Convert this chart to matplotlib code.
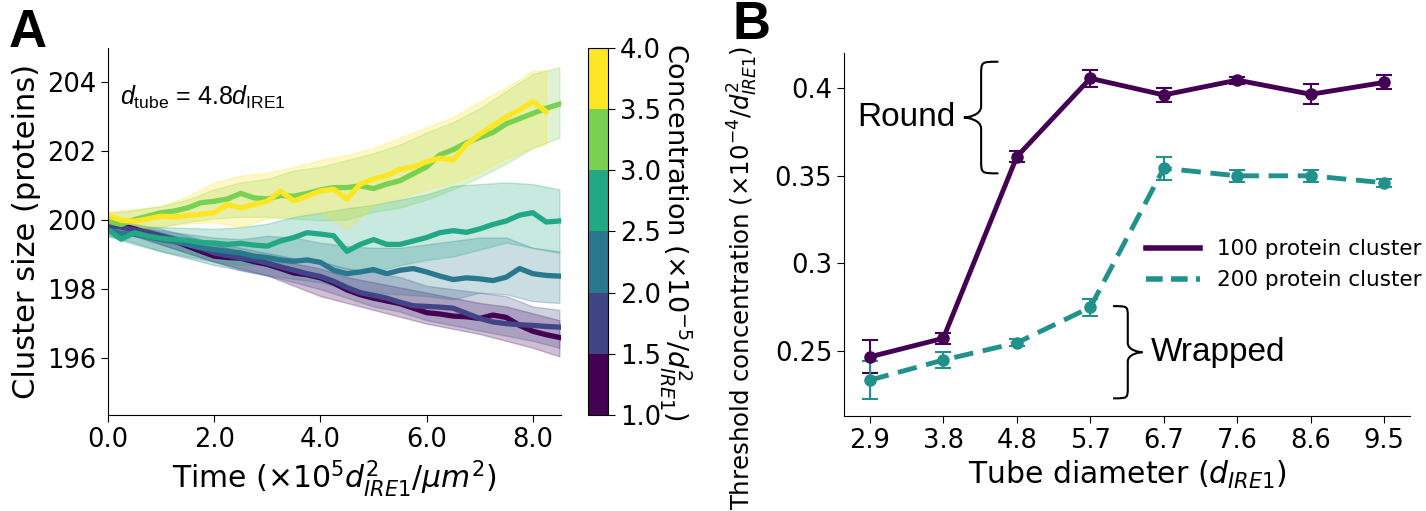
import numpy as np
import matplotlib
matplotlib.use('Agg')
import matplotlib.pyplot as plt
from matplotlib.colors import ListedColormap, BoundaryNorm
from matplotlib.path import Path
import matplotlib.patches as mpatches
from matplotlib.ticker import FuncFormatter

plt.rcParams['mathtext.fontset'] = 'dejavusans'
plt.rcParams['mathtext.rm'] = 'Liberation Sans'
plt.rcParams['mathtext.it'] = 'Liberation Sans:italic'

# ---------------- Panel A data ----------------
conc_levels = [1.5, 2.0, 2.5, 3.0, 3.5, 4.0]
conc_bounds = [1.0, 1.5, 2.0, 2.5, 3.0, 3.5, 4.0]
conc_colors = ['#440154', '#414487', '#2a788e', '#22a884', '#7ad151', '#fde725']

t_line = np.arange(0, 8.51, 0.25)
t_band = np.arange(0, 8.51, 0.5)
t_line_40 = t_line[:34]
t_band_40 = np.append(t_band[:17], 8.25)

size_15 = [199.83, 199.85, 199.75, 199.62, 199.50, 199.40, 199.25, 199.10, 198.96, 198.92,
           198.90, 198.80, 198.72, 198.60, 198.47, 198.42, 198.33, 198.18, 197.98, 197.84,
           197.74, 197.66, 197.58, 197.45, 197.32, 197.28, 197.22, 197.20, 197.15, 197.25,
           197.18, 196.95, 196.78, 196.68, 196.60]
size_20 = [199.88, 199.80, 199.72, 199.65, 199.55, 199.45, 199.30, 199.20, 199.05, 198.98,
           198.91, 198.85, 198.76, 198.65, 198.55, 198.45, 198.37, 198.23, 198.05, 197.90,
           197.82, 197.74, 197.62, 197.52, 197.50, 197.48, 197.45, 197.30, 197.15, 197.05,
           197.00, 196.97, 196.95, 196.92, 196.90]
size_25 = [199.73, 199.62, 199.59, 199.52, 199.44, 199.38, 199.30, 199.20, 199.15, 199.10,
           199.05, 198.96, 198.92, 198.85, 198.81, 198.85, 198.78, 198.55, 198.45, 198.50,
           198.57, 198.45, 198.55, 198.60, 198.50, 198.38, 198.28, 198.33, 198.30, 198.25,
           198.35, 198.60, 198.45, 198.40, 198.38]
size_30 = [199.73, 199.45, 199.64, 199.54, 199.48, 199.44, 199.42, 199.35, 199.34, 199.30,
           199.33, 199.28, 199.25, 199.40, 199.50, 199.64, 199.60, 199.55, 199.10, 199.30,
           199.44, 199.30, 199.30, 199.40, 199.50, 199.64, 199.70, 199.65, 199.75, 199.88,
           199.98, 200.15, 200.22, 199.95, 199.98]
size_35 = [199.97, 199.88, 200.02, 200.12, 200.22, 200.27, 200.36, 200.51, 200.55, 200.62,
           200.78, 200.65, 200.62, 200.72, 200.70, 200.78, 200.88, 200.95, 200.95, 201.00,
           200.92, 201.05, 201.15, 201.35, 201.55, 201.90, 202.05, 202.25, 202.40, 202.55,
           202.80, 202.95, 203.10, 203.25, 203.37]
size_40 = [200.14, 200.00, 199.97, 200.04, 200.12, 200.09, 200.14, 200.17, 200.22, 200.46,
           200.36, 200.46, 200.55, 200.85, 200.56, 200.70, 200.85, 200.90, 200.62, 201.05,
           201.20, 201.30, 201.48, 201.55, 201.70, 201.80, 201.75, 202.20, 202.50, 202.75,
           203.00, 203.20, 203.45, 203.15]

lo_15 = [199.70, 199.55, 199.30, 199.05, 198.80, 198.60, 198.40, 198.10, 197.80, 197.60,
         197.40, 197.20, 197.00, 196.85, 196.70, 196.50, 196.30, 196.05]
hi_15 = [199.90, 199.85, 199.65, 199.45, 199.30, 199.10, 198.90, 198.75, 198.60, 198.35,
         198.20, 198.05, 197.90, 197.75, 197.60, 197.50, 197.30, 197.10]
lo_20 = [199.75, 199.55, 199.30, 199.05, 198.80, 198.55, 198.40, 198.20, 198.00, 197.75,
         197.50, 197.35, 197.10, 196.95, 196.80, 196.65, 196.50, 196.30]
hi_20 = [199.95, 199.90, 199.75, 199.55, 199.35, 199.20, 199.05, 198.90, 198.80, 198.60,
         198.50, 198.35, 198.10, 198.00, 197.90, 197.80, 197.50, 197.40]
lo_25 = [199.55, 199.35, 199.10, 198.90, 198.70, 198.55, 198.40, 198.30, 198.20, 198.00,
         197.90, 197.85, 197.80, 197.70, 197.90, 197.85, 197.65, 197.60]
hi_25 = [199.90, 199.80, 199.70, 199.60, 199.50, 199.45, 199.55, 199.50, 199.35, 199.25,
         199.20, 199.20, 199.30, 199.40, 199.50, 199.50, 199.20, 199.10]
lo_30 = [199.54, 199.30, 199.10, 198.95, 198.80, 198.70, 198.72, 198.80, 198.78, 198.60,
         198.50, 198.70, 198.85, 198.95, 199.15, 199.35, 199.20, 199.05]
hi_30 = [199.93, 199.85, 199.80, 199.78, 199.75, 199.80, 199.90, 200.10, 200.22, 200.35,
         200.45, 200.60, 200.75, 201.00, 201.05, 201.10, 201.05, 200.90]
lo_35 = [199.73, 199.75, 199.80, 199.95, 200.05, 200.10, 200.10, 200.05, 200.00, 200.02,
         200.25, 200.37, 200.60, 200.90, 201.25, 201.65, 202.10, 202.40]
hi_35 = [200.22, 200.30, 200.41, 200.60, 200.90, 201.10, 201.20, 201.45, 201.55, 201.75,
         201.95, 202.20, 202.55, 202.85, 203.25, 203.75, 204.25, 204.44]
lo_40 = [199.88, 199.80, 199.85, 199.90, 199.95, 199.80, 200.05, 200.15, 200.25, 199.75,
         200.45, 200.66, 200.90, 201.10, 201.40, 201.80, 202.10, 202.20]
hi_40 = [200.25, 200.32, 200.41, 200.70, 201.10, 201.30, 201.38, 201.55, 201.75, 201.90,
         202.10, 202.40, 202.70, 203.00, 203.45, 203.85, 204.35, 204.35]

lines_A = [size_15, size_20, size_25, size_30, size_35, size_40]
lows_A = [lo_15, lo_20, lo_25, lo_30, lo_35, lo_40]
highs_A = [hi_15, hi_20, hi_25, hi_30, hi_35, hi_40]

# ---------------- Panel B data ----------------
diam_labels = ['2.9', '3.8', '4.8', '5.7', '6.7', '7.6', '8.6', '9.5']
thr_100 = [0.2465, 0.2571, 0.3609, 0.4057, 0.3962, 0.4047, 0.3966, 0.4034]
err_100 = [0.0095, 0.0030, 0.0030, 0.0050, 0.0042, 0.0020, 0.0057, 0.0040]
thr_200 = [0.2332, 0.2447, 0.2545, 0.2748, 0.3543, 0.3500, 0.3500, 0.3460]
err_200 = [0.0107, 0.0043, 0.0020, 0.0050, 0.0065, 0.0033, 0.0033, 0.0024]


def brace(ax, x_tip, x_end, y0, y1, **kw):
    # curly brace with its point at x_tip, arms ending at x_end
    ym = (y0 + y1) / 2
    h = y1 - y0
    xm = (x_tip + x_end) / 2
    w = x_end - x_tip
    verts = [(x_end, y1), (xm, y1), (xm, y1), (xm, y1 - 0.12 * h),
             (xm, ym + 0.1 * h),
             (xm, ym + 0.02 * h), (x_tip + 0.1 * w, ym), (x_tip, ym),
             (x_tip + 0.1 * w, ym), (xm, ym - 0.02 * h), (xm, ym - 0.1 * h),
             (xm, y0 + 0.12 * h),
             (xm, y0), (xm, y0), (x_end, y0)]
    codes = [Path.MOVETO, Path.CURVE4, Path.CURVE4, Path.CURVE4,
             Path.LINETO,
             Path.CURVE4, Path.CURVE4, Path.CURVE4,
             Path.CURVE4, Path.CURVE4, Path.CURVE4,
             Path.LINETO,
             Path.CURVE4, Path.CURVE4, Path.CURVE4]
    ax.add_patch(mpatches.PathPatch(Path(verts, codes), fill=False, **kw))


fig = plt.figure(figsize=(14.26, 5.11), dpi=100)
axA = fig.add_axes([0.0757, 0.1879, 0.3177, 0.7182])
cax = fig.add_axes([0.4123, 0.1879, 0.0141, 0.7182])
axB = fig.add_axes([0.5919, 0.1859, 0.3969, 0.7104])

# ---- Panel A ----
for i in range(6):
    tb = t_band_40 if i == 5 else t_band
    axA.fill_between(tb, lows_A[i], highs_A[i], color=conc_colors[i], alpha=0.25, linewidth=1)
for i in range(6):
    tl = t_line_40 if i == 5 else t_line
    axA.plot(tl, lines_A[i], color=conc_colors[i], linewidth=3.8)

axA.set_xlim(0, 8.53)
axA.set_ylim(194.35, 205.0)
axA.set_xticks([0, 2, 4, 6, 8])
axA.xaxis.set_major_formatter(FuncFormatter(lambda v, p: '%.1f' % v))
axA.set_yticks([196, 198, 200, 202, 204])
axA.tick_params(axis='both', labelsize=18.5, length=5)
axA.spines['top'].set_visible(False)
axA.spines['right'].set_visible(False)
axA.set_ylabel('Cluster size (proteins)', fontsize=22)
axA.set_xlabel(r'Time ($\times10^5 d_{IRE1}^2/\mu m^2$)', fontsize=21.5)
axA.text(0.027, 0.865, r'$d_\mathrm{tube}$ = 4.8$d_\mathrm{IRE1}$', transform=axA.transAxes,
         fontsize=18, family='Liberation Sans', math_fontfamily='custom', va='center')

cmap = ListedColormap(conc_colors)
norm = BoundaryNorm(conc_bounds, cmap.N)
sm = matplotlib.cm.ScalarMappable(norm=norm, cmap=cmap)
cb = fig.colorbar(sm, cax=cax, ticks=conc_bounds)
cb.ax.set_yticklabels(['%.1f' % b for b in conc_bounds])
cb.ax.tick_params(labelsize=18.5, length=5)
cb.set_label(r'Concentration ($\times10^{-5}/d_{IRE1}^2$)', fontsize=19.5, rotation=270, labelpad=24)

# ---- Panel B ----
xb = np.arange(len(diam_labels))
c100 = '#440154'
c200 = '#21918c'
axB.errorbar(xb, thr_100, yerr=err_100, color=c100, linewidth=3.5, marker='o', markersize=8,
             capsize=6, elinewidth=1.5, capthick=1.5, label='100 protein cluster')
axB.errorbar(xb, thr_200, yerr=err_200, color=c200, linewidth=3.5, marker='o', markersize=8,
             capsize=6, elinewidth=1.5, capthick=1.5, dashes=(4, 2), label='200 protein cluster')
axB.set_xlim(-0.35, 7.35)
axB.set_ylim(0.2127, 0.4202)
axB.set_xticks(xb)
axB.set_xticklabels(diam_labels)
axB.set_yticks([0.25, 0.3, 0.35, 0.4])
axB.yaxis.set_major_formatter(FuncFormatter(lambda v, p: '%g' % round(v, 3)))
axB.tick_params(axis='both', labelsize=18.5, length=5)
axB.spines['top'].set_visible(False)
axB.spines['right'].set_visible(False)
axB.set_xlabel(r'Tube diameter ($d_{IRE1}$)', fontsize=21.5)
axB.set_ylabel(r'Threshold concentration ($\times10^{-4}/d_{IRE1}^2$)', fontsize=17.6)
axB.yaxis.set_label_coords(-0.148, 0.3815)

h_leg = [matplotlib.lines.Line2D([], [], color=c100, linewidth=4),
         matplotlib.lines.Line2D([], [], color=c200, linewidth=4, dashes=(3, 1.5))]
axB.legend(h_leg, ['100 protein cluster', '200 protein cluster'], loc='upper left',
           bbox_to_anchor=(0.5, 0.54), frameon=False, fontsize=15.5, handlelength=2.5)

brace(axB, 1.28, 1.75, 0.3514, 0.4152, color='black', linewidth=1.5)
brace(axB, 3.71, 3.31, 0.2228, 0.2755, color='black', linewidth=1.5)
axB.text(1.16, 0.3834, 'Round', fontsize=24, family='Liberation Sans', ha='right', va='center')
axB.text(3.83, 0.2488, 'Wrapped', fontsize=24, family='Liberation Sans', ha='left', va='center')

fig.text(0.006, 0.985, 'A', fontsize=38, fontweight='bold', family='Liberation Sans', va='top')
fig.text(0.514, 1.0, 'B', fontsize=38, fontweight='bold', family='Liberation Sans', va='top')

plt.savefig('out.png', dpi=100)
